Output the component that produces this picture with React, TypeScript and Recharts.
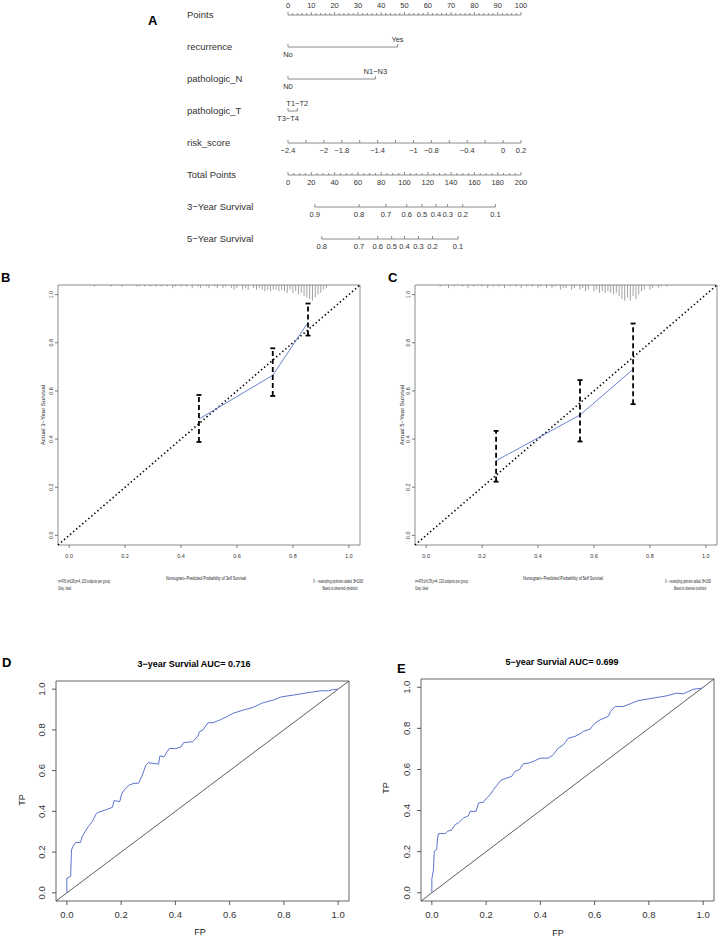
import React from 'react';
import {
  ScatterChart,
  Scatter,
  ComposedChart,
  Line,
  XAxis,
  YAxis,
  ErrorBar,
  ReferenceArea,
  ReferenceLine,
} from 'recharts';

const FONT = '"Liberation Sans", Arial, Helvetica, sans-serif';
const BLUE = '#5a74cc';

// ---------- A: nomogram ----------
const ROW_NAMES = ['Points', 'recurrence', 'pathologic_N', 'pathologic_T', 'risk_score', 'Total Points', '3−Year Survival', '5−Year Survival'];
const POINTS_LABELS = [0, 10, 20, 30, 40, 50, 60, 70, 80, 90, 100];
const RECURRENCE_LEVELS = ['No', 'Yes'];
const RECURRENCE_PTS = [0, 47];
const N_LEVELS = ['N0', 'N1−N3'];
const N_PTS = [0, 37.5];
const T_LEVELS = ['T3−T4', 'T1−T2'];
const T_PTS = [0, 4];
const RISK_TICKS = [-2.4, -2.2, -2, -1.8, -1.6, -1.4, -1.2, -1, -0.8, -0.6, -0.4, -0.2, 0, 0.2];
const RISK_LABELS = [-2.4, -2, -1.8, -1.4, -1, -0.8, -0.4, 0, 0.2];
const TOTAL_LABELS = [0, 20, 40, 60, 80, 100, 120, 140, 160, 180, 200];
const SURV3 = [0.9, 0.8, 0.7, 0.6, 0.5, 0.4, 0.3, 0.2, 0.1];
const SURV3_TOTAL = [23, 61, 84, 102, 115, 127, 137, 150, 178];
const SURV5 = [0.8, 0.7, 0.6, 0.5, 0.4, 0.3, 0.2, 0.1];
const SURV5_TOTAL = [29, 61, 77, 89, 100, 112, 124, 146];

// ---------- B / C: calibration ----------
const CAL_TICKS = [0, 0.2, 0.4, 0.6, 0.8, 1];
const CAL3_PRED = [0.464, 0.728, 0.854];
const CAL3_OBS = [0.483, 0.665, 0.884];
const CAL3_LO = [0.388, 0.579, 0.83];
const CAL3_HI = [0.583, 0.777, 0.963];
const CAL5_PRED = [0.25, 0.55, 0.74];
const CAL5_OBS = [0.31, 0.5, 0.69];
const CAL5_LO = [0.223, 0.39, 0.545];
const CAL5_HI = [0.434, 0.645, 0.88];

const RUG3_X = [0.09, 0.15, 0.19, 0.24, 0.25, 0.27, 0.29, 0.31, 0.33, 0.35, 0.37, 0.38, 0.4, 0.42, 0.44, 0.46, 0.47, 0.49, 0.5, 0.52, 0.53, 0.55, 0.56, 0.58, 0.59, 0.6, 0.62, 0.63, 0.64, 0.66, 0.67, 0.68, 0.69, 0.7, 0.71, 0.72, 0.73, 0.74, 0.75, 0.76, 0.77, 0.78, 0.79, 0.8, 0.81, 0.82, 0.83, 0.84, 0.85, 0.86, 0.87, 0.88, 0.89, 0.9, 0.91, 0.92];
const RUG3_N = [1, 1, 1, 1, 1, 1, 1, 1, 1, 1, 2, 1, 1, 1, 2, 1, 2, 1, 2, 1, 2, 2, 1, 2, 3, 2, 3, 2, 3, 2, 3, 2, 3, 4, 3, 4, 3, 3, 4, 3, 4, 5, 3, 5, 4, 6, 5, 7, 8, 9, 10, 8, 6, 5, 3, 2];
const RUG5_X = [0.05, 0.08, 0.1, 0.13, 0.15, 0.17, 0.2, 0.22, 0.24, 0.26, 0.28, 0.3, 0.32, 0.34, 0.36, 0.38, 0.4, 0.41, 0.43, 0.45, 0.46, 0.48, 0.49, 0.5, 0.52, 0.53, 0.55, 0.56, 0.57, 0.58, 0.6, 0.61, 0.62, 0.63, 0.64, 0.65, 0.66, 0.67, 0.68, 0.69, 0.7, 0.71, 0.72, 0.73, 0.74, 0.75, 0.76, 0.77, 0.78, 0.8, 0.81, 0.83, 0.84, 0.86];
const RUG5_N = [1, 2, 1, 1, 2, 1, 1, 2, 1, 1, 2, 1, 1, 2, 1, 1, 2, 1, 2, 2, 1, 3, 2, 2, 3, 2, 3, 2, 4, 3, 4, 3, 5, 4, 5, 4, 5, 6, 5, 7, 9, 10, 8, 10, 7, 9, 6, 4, 3, 3, 2, 2, 1, 1];

// ---------- D / E: ROC ----------
const ROC_TICKS = [0, 0.2, 0.4, 0.6, 0.8, 1];
const ROC3_FP = [0, 0, 0.014, 0.017, 0.022, 0.032, 0.05, 0.057, 0.067, 0.079, 0.091, 0.1, 0.109, 0.119, 0.143, 0.168, 0.174, 0.195, 0.202, 0.211, 0.23, 0.248, 0.264, 0.277, 0.291, 0.301, 0.316, 0.338, 0.343, 0.359, 0.368, 0.378, 0.402, 0.421, 0.43, 0.464, 0.483, 0.489, 0.501, 0.52, 0.538, 0.563, 0.588, 0.612, 0.649, 0.686, 0.717, 0.736, 0.76, 0.791, 0.835, 0.872, 0.909, 0.94, 0.964, 0.983, 1.0];
const ROC3_TP = [0, 0.072, 0.08, 0.21, 0.227, 0.247, 0.247, 0.276, 0.3, 0.325, 0.345, 0.366, 0.39, 0.397, 0.407, 0.42, 0.453, 0.448, 0.485, 0.505, 0.529, 0.538, 0.538, 0.574, 0.627, 0.639, 0.636, 0.632, 0.672, 0.668, 0.691, 0.709, 0.708, 0.717, 0.737, 0.742, 0.77, 0.791, 0.799, 0.835, 0.835, 0.848, 0.864, 0.881, 0.897, 0.91, 0.93, 0.938, 0.946, 0.962, 0.971, 0.979, 0.987, 0.992, 0.992, 0.998, 1.0];
const ROC5_FP = [0, 0, 0.006, 0.009, 0.018, 0.021, 0.025, 0.049, 0.058, 0.074, 0.086, 0.098, 0.117, 0.135, 0.141, 0.163, 0.172, 0.19, 0.202, 0.215, 0.227, 0.239, 0.254, 0.276, 0.294, 0.307, 0.323, 0.337, 0.356, 0.374, 0.399, 0.429, 0.448, 0.466, 0.485, 0.503, 0.528, 0.546, 0.558, 0.583, 0.601, 0.62, 0.65, 0.659, 0.675, 0.706, 0.736, 0.761, 0.816, 0.865, 0.902, 0.926, 0.945, 0.963, 0.994, 1.0];
const ROC5_TP = [0, 0.068, 0.113, 0.202, 0.21, 0.267, 0.288, 0.288, 0.299, 0.307, 0.332, 0.34, 0.364, 0.375, 0.396, 0.396, 0.437, 0.44, 0.461, 0.477, 0.502, 0.521, 0.547, 0.558, 0.566, 0.591, 0.599, 0.628, 0.631, 0.639, 0.655, 0.655, 0.672, 0.704, 0.72, 0.752, 0.761, 0.773, 0.785, 0.796, 0.825, 0.841, 0.858, 0.882, 0.906, 0.906, 0.922, 0.935, 0.947, 0.958, 0.971, 0.968, 0.979, 0.99, 0.995, 1.0];

const fmt1 = (v: number) => v.toFixed(1);
const minus = (v: number) => String(v).replace('-', '−');

type Mark = { x: number; y: number; text?: string; dy?: number; minor?: boolean };

// nomogram rows, x in "Points" units (0-100)
const LAB_UP = -5;
const LAB_DOWN = 10;
function buildRows(): Mark[][] {
  const pts: Mark[] = [];
  for (let p = 0; p <= 100; p += 2) {
    const lab = POINTS_LABELS.includes(p);
    pts.push({ x: p, y: 0, text: lab ? String(p) : undefined, dy: -7, minor: !lab });
  }
  const cat = (lv: string[], v: number[], row: number): Mark[] =>
    lv.map((t, i) => ({ x: v[i], y: row, text: t, dy: i % 2 === 0 ? LAB_DOWN : LAB_UP }));
  const risk: Mark[] = RISK_TICKS.map((r) => {
    const lab = RISK_LABELS.some((l) => Math.abs(l - r) < 1e-6);
    return { x: ((r + 2.4) / 2.6) * 100, y: 4, text: lab ? minus(r) : undefined, dy: LAB_DOWN };
  });
  const total: Mark[] = [];
  for (let t = 0; t <= 200; t += 5) {
    const lab = TOTAL_LABELS.includes(t);
    total.push({ x: t / 2, y: 5, text: lab ? String(t) : undefined, dy: LAB_DOWN, minor: !lab });
  }
  const s3 = SURV3.map((s, i) => ({ x: SURV3_TOTAL[i] / 2, y: 6, text: fmt1(s), dy: LAB_DOWN }));
  const s5 = SURV5.map((s, i) => ({ x: SURV5_TOTAL[i] / 2, y: 7, text: fmt1(s), dy: LAB_DOWN }));
  return [pts, cat(RECURRENCE_LEVELS, RECURRENCE_PTS, 1), cat(N_LEVELS, N_PTS, 2), cat(T_LEVELS, T_PTS, 3), risk, total, s3, s5];
}

function NomoMark(props: any) {
  const { cx, cy, payload } = props;
  const m = payload as Mark;
  return (
    <g>
      <line x1={cx} y1={cy} x2={cx} y2={cy - (m.minor ? 2 : 3)} stroke="#6e6e6e" strokeWidth={0.8} />
      {m.text && (
        <text x={cx} y={cy + (m.dy || 0)} textAnchor="middle" fontSize={7.5} fill="#333" fontFamily={FONT}>
          {m.text}
        </text>
      )}
    </g>
  );
}

const ROW_LABEL_X = 187;
function RowLabel(props: any) {
  const { y, payload } = props;
  return (
    <text x={ROW_LABEL_X} y={y + 3} fontSize={9.5} fill="#333" fontFamily={FONT}>
      {ROW_NAMES[payload.value]}
    </text>
  );
}

function Nomogram() {
  const rows = buildRows();
  return (
    <div style={{ position: 'absolute', left: 0, top: 0 }}>
      <ScatterChart width={722} height={260} margin={{ top: 15, right: 201, bottom: 21, left: 228 }}>
        <XAxis type="number" dataKey="x" domain={[0, 100]} hide height={0} />
        <YAxis
          type="number"
          dataKey="y"
          domain={[0, 7]}
          reversed
          width={60}
          ticks={[0, 1, 2, 3, 4, 5, 6, 7]}
          interval={0}
          axisLine={false}
          tickLine={false}
          tick={<RowLabel />}
        />
        {rows.map((r, i) => (
          <Scatter
            key={i}
            data={r}
            line={{ stroke: '#6e6e6e', strokeWidth: 0.8 }}
            shape={<NomoMark />}
            isAnimationActive={false}
          />
        ))}
      </ScatterChart>
    </div>
  );
}

// ---------- shared axis ticks ----------
function XTick(props: any) {
  const { x, y, payload, fs, dy } = props;
  return (
    <text x={x} y={y + dy} textAnchor="middle" fontSize={fs} fill="#333" fontFamily={FONT}>
      {fmt1(payload.value)}
    </text>
  );
}
function YRotTick(props: any) {
  const { x, y, payload, fs, dx } = props;
  const bx = x + dx;
  return (
    <text x={bx} y={y} transform={`rotate(-90 ${bx} ${y})`} textAnchor="middle" fontSize={fs} fill="#333" fontFamily={FONT}>
      {fmt1(payload.value)}
    </text>
  );
}
const Empty = () => <g />;

type Plot = { l: number; t: number; w: number; h: number };
const DOM: [number, number] = [-0.04, 1.04];

function CalPanel(props: { plot: Plot; pred: number[]; obs: number[]; lo: number[]; hi: number[]; rugX: number[]; rugN: number[] }) {
  const { plot, pred, obs, lo, hi, rugX, rugN } = props;
  const yw = 12;
  const xh = 20;
  const pad = 6;
  const unit = 0.0065;
  const rug = rugX.map((x, i) => ({ x, y: 1.04 - (rugN[i] * unit) / 2, err: (rugN[i] * unit) / 2 }));
  const cal = pred.map((x, i) => ({ x, y: obs[i], err: [obs[i] - lo[i], hi[i] - obs[i]] }));
  return (
    <div style={{ position: 'absolute', left: plot.l - yw - pad, top: plot.t - pad }}>
      <ComposedChart width={plot.w + yw + 2 * pad} height={plot.h + xh + 2 * pad} margin={{ top: pad, right: pad, bottom: pad, left: pad }}>
        <XAxis type="number" dataKey="x" domain={DOM} ticks={CAL_TICKS} interval={0} allowDataOverflow axisLine={false} tickSize={3} stroke="#777" height={xh} tick={<XTick fs={5.5} dy={8} />} />
        <YAxis type="number" dataKey="y" domain={DOM} ticks={CAL_TICKS} interval={0} allowDataOverflow axisLine={false} tickSize={3} stroke="#777" width={yw} tick={<YRotTick fs={5.5} dx={0} />} />
        <ReferenceArea x1={-0.04} x2={1.04} y1={-0.04} y2={1.04} fill="none" fillOpacity={0} stroke="#7f7f7f" strokeWidth={0.9} />
        <ReferenceLine segment={[{ x: -0.04, y: -0.04 }, { x: 1.04, y: 1.04 }]} stroke="#000" strokeWidth={1.6} strokeDasharray="1.4 2.6" />
        <Scatter data={rug} shape={<Empty />} isAnimationActive={false}>
          <ErrorBar dataKey="err" direction="y" width={0} stroke="#777" strokeWidth={0.7} isAnimationActive={false} />
        </Scatter>
        <Line data={cal} dataKey="y" stroke={BLUE} strokeWidth={0.9} dot={false} isAnimationActive={false} />
        <Scatter data={cal} shape={<Empty />} isAnimationActive={false}>
          <ErrorBar dataKey="err" direction="y" width={2.5} stroke="#000" strokeWidth={1.8} strokeDasharray="5 3" isAnimationActive={false} />
        </Scatter>
      </ComposedChart>
    </div>
  );
}

function RocPanel(props: { plot: Plot; fp: number[]; tp: number[] }) {
  const { plot, fp, tp } = props;
  const yw = 26;
  const xh = 24;
  const pad = 6;
  const roc = fp.map((x, i) => ({ x, y: tp[i] }));
  return (
    <div style={{ position: 'absolute', left: plot.l - yw - pad, top: plot.t - pad }}>
      <ComposedChart width={plot.w + yw + 2 * pad} height={plot.h + xh + 2 * pad} margin={{ top: pad, right: pad, bottom: pad, left: pad }}>
        <XAxis type="number" dataKey="x" domain={DOM} ticks={ROC_TICKS} interval={0} allowDataOverflow axisLine={false} tickSize={4} stroke="#555" height={xh} tick={<XTick fs={9.5} dy={11} />} />
        <YAxis type="number" dataKey="y" domain={DOM} ticks={ROC_TICKS} interval={0} allowDataOverflow axisLine={false} tickSize={4} stroke="#555" width={yw} tick={<YRotTick fs={9.5} dx={-5} />} />
        <ReferenceArea x1={-0.04} x2={1.04} y1={-0.04} y2={1.04} fill="none" fillOpacity={0} stroke="#555" strokeWidth={0.9} />
        <ReferenceLine segment={[{ x: -0.04, y: -0.04 }, { x: 1.04, y: 1.04 }]} stroke="#333" strokeWidth={0.8} />
        <Line data={roc} dataKey="y" stroke={BLUE} strokeWidth={1} dot={false} isAnimationActive={false} />
      </ComposedChart>
    </div>
  );
}

// squished R-style small text
function Tiny(props: { x: number; y: number; len: number; fs?: number; anchor?: 'start' | 'middle'; children: string }) {
  const { x, y, len, fs = 4.5, anchor = 'start', children } = props;
  return (
    <text x={x} y={y} fontSize={fs} textLength={len} lengthAdjust="spacingAndGlyphs" textAnchor={anchor} fill="#222" fontFamily={FONT}>
      {children}
    </text>
  );
}

function Overlay() {
  const letter = { fontSize: 13, fontWeight: 700, fill: '#000', fontFamily: FONT } as const;
  return (
    <svg width={722} height={937} style={{ position: 'absolute', left: 0, top: 0, pointerEvents: 'none' }}>
      <text x={148} y={25} {...letter}>A</text>
      <text x={1} y={282} {...letter}>B</text>
      <text x={388} y={282} {...letter}>C</text>
      <text x={2} y={667} {...letter}>D</text>
      <text x={397} y={673} {...letter}>E</text>

      {/* B texts */}
      <Tiny x={206} y={580} len={80} fs={6} anchor="middle">Nomogram−Predicted Probability of 3elf Survival</Tiny>
      <text x={45} y={415} transform="rotate(-90 45 415)" fontSize={6} textAnchor="middle" fill="#222" fontFamily={FONT}>Actual 3−Year Survival</text>
      <Tiny x={58} y={583} len={52}>n=478 d=138 p=4, 130 subjects per group</Tiny>
      <Tiny x={58} y={590} len={13}>Gray: ideal</Tiny>
      <Tiny x={338} y={583} len={50} anchor="middle">X − resampling optimism added, B=1000</Tiny>
      <Tiny x={340} y={590} len={35} anchor="middle">Based on observed−predicted</Tiny>

      {/* C texts */}
      <Tiny x={563} y={580} len={80} fs={6} anchor="middle">Nomogram−Predicted Probability of 5elf Survival</Tiny>
      <text x={404} y={415} transform="rotate(-90 404 415)" fontSize={6} textAnchor="middle" fill="#222" fontFamily={FONT}>Actual 5−Year Survival</text>
      <Tiny x={415} y={583} len={53}>n=478 d=178 p=4, 130 subjects per group</Tiny>
      <Tiny x={415} y={590} len={13}>Gray: ideal</Tiny>
      <Tiny x={688} y={583} len={46} anchor="middle">X − resampling optimism added, B=1000</Tiny>
      <Tiny x={690} y={590} len={32} anchor="middle">Based on observed−predicted</Tiny>

      {/* D texts */}
      <text x={194} y={667} fontSize={9} fontWeight={700} textAnchor="middle" fill="#000" fontFamily={FONT}>3−year Survial AUC= 0.716</text>
      <text x={25} y={800} transform="rotate(-90 25 800)" fontSize={9} textAnchor="middle" fill="#222" fontFamily={FONT}>TP</text>
      <text x={200} y={935} fontSize={9} textAnchor="middle" fill="#222" fontFamily={FONT}>FP</text>

      {/* E texts */}
      <text x={562} y={665} fontSize={9} fontWeight={700} textAnchor="middle" fill="#000" fontFamily={FONT}>5−year Survial AUC= 0.699</text>
      <text x={389} y={788} transform="rotate(-90 389 788)" fontSize={9} textAnchor="middle" fill="#222" fontFamily={FONT}>TP</text>
      <text x={558} y={936} fontSize={9} textAnchor="middle" fill="#222" fontFamily={FONT}>FP</text>
    </svg>
  );
}

export default function App() {
  return (
    <div style={{ position: 'absolute', left: 0, top: 0, width: 722, height: 937, background: '#fff', fontFamily: FONT }}>
      <Nomogram />
      <CalPanel plot={{ l: 58, t: 285, w: 302, h: 260 }} pred={CAL3_PRED} obs={CAL3_OBS} lo={CAL3_LO} hi={CAL3_HI} rugX={RUG3_X} rugN={RUG3_N} />
      <CalPanel plot={{ l: 415, t: 285, w: 302, h: 260 }} pred={CAL5_PRED} obs={CAL5_OBS} lo={CAL5_LO} hi={CAL5_HI} rugX={RUG5_X} rugN={RUG5_N} />
      <RocPanel plot={{ l: 56, t: 681, w: 293, h: 220 }} fp={ROC3_FP} tp={ROC3_TP} />
      <RocPanel plot={{ l: 421, t: 679, w: 293, h: 222 }} fp={ROC5_FP} tp={ROC5_TP} />
      <Overlay />
    </div>
  );
}
